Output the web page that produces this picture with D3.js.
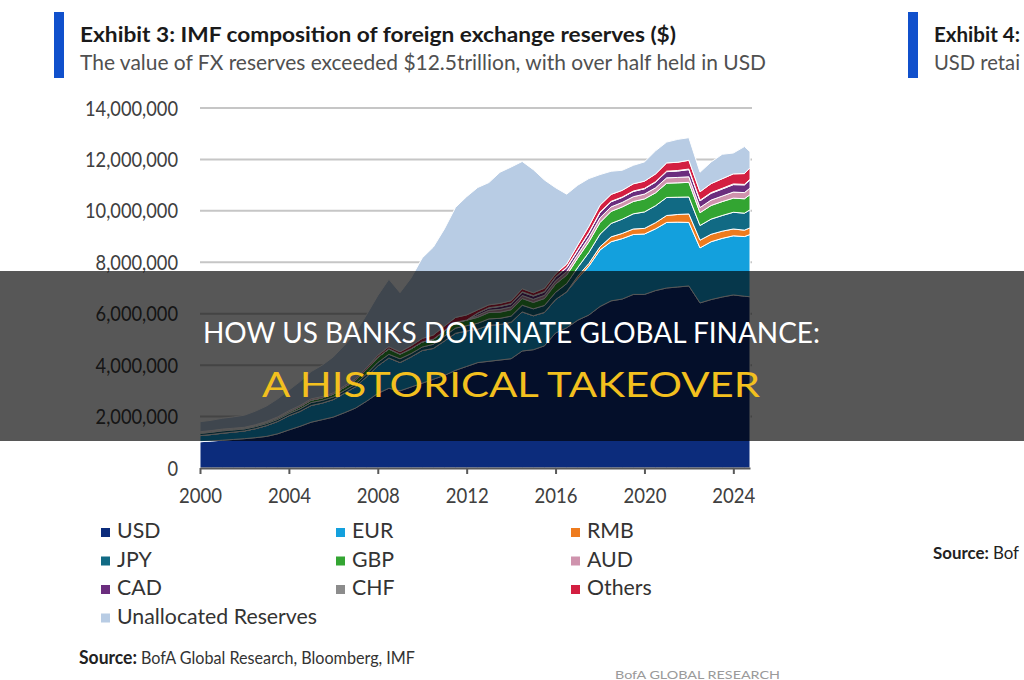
<!DOCTYPE html>
<html>
<head>
<meta charset="utf-8">
<script src="https://cdn.jsdelivr.net/npm/d3@7"></script>
<style>
body { margin: 0; background: #fff; }
text { font-family: Lato, "Open Sans", sans-serif; }
</style>
</head>
<body>
<div id="chart"></div>
<script>
// values in USD bn (half-year steps)
var years = [2000, 2000.5, 2001, 2001.5, 2002, 2002.5, 2003, 2003.5, 2004, 2004.5,
    2005, 2005.5, 2006, 2006.5, 2007, 2007.5, 2008, 2008.5, 2009, 2009.5,
    2010, 2010.5, 2011, 2011.5, 2012, 2012.5, 2013, 2013.5, 2014, 2014.5,
    2015, 2015.5, 2016, 2016.5, 2017, 2017.5, 2018, 2018.5, 2019, 2019.5,
    2020, 2020.5, 2021, 2021.5, 2022, 2022.5, 2023, 2023.5, 2024, 2024.5, 2024.75];

var usd = [1020, 1050, 1080, 1110, 1140, 1180, 1230, 1330, 1480, 1620,
    1780, 1880, 1980, 2150, 2330, 2600, 2900, 3100, 3000, 3150,
    3300, 3450, 3600, 3800, 3950, 4100, 4150, 4200, 4250, 4550,
    4600, 4750, 5250, 5450, 5750, 5950, 6280, 6500, 6570, 6750,
    6750, 6900, 7000, 7040, 7080, 6420, 6550, 6650, 6730, 6680, 6660];
var eur = [240, 250, 272, 285, 300, 350, 420, 480, 550, 580,
    650, 645, 680, 760, 830, 950, 1070, 1180, 1100, 1170,
    1270, 1200, 1340, 1440, 1380, 1300, 1400, 1380, 1420, 1520,
    1320, 1300, 1300, 1400, 1620, 1900, 2200, 2300, 2350, 2330,
    2350, 2400, 2550, 2520, 2470, 2140, 2250, 2280, 2300, 2320, 2420];
var rmb = [0, 0, 0, 0, 0, 0, 0, 0, 0, 0,
    0, 0, 0, 0, 0, 0, 0, 0, 0, 0,
    0, 0, 0, 0, 0, 0, 0, 0, 0, 0,
    0, 0, 0, 0, 90, 105, 123, 190, 203, 215,
    218, 240, 270, 300, 330, 300, 290, 280, 265, 250, 260];
var jpy = [85, 88, 92, 85, 79, 80, 79, 83, 87, 100,
    113, 105, 102, 103, 103, 115, 131, 140, 147, 130,
    133, 160, 190, 200, 204, 230, 249, 240, 236, 260,
    270, 270, 280, 320, 340, 430, 490, 520, 555, 590,
    640, 660, 700, 670, 660, 570, 590, 610, 650, 660, 700];
var gbp = [38, 40, 43, 42, 42, 46, 52, 57, 64, 80,
    93, 98, 107, 125, 147, 170, 200, 210, 176, 185,
    196, 195, 203, 220, 215, 230, 246, 240, 247, 260,
    250, 270, 320, 330, 365, 410, 455, 470, 475, 480,
    505, 500, 555, 560, 570, 500, 530, 540, 550, 560, 590];
var aud = [0, 0, 0, 0, 0, 0, 0, 0, 0, 0,
    0, 0, 0, 0, 0, 0, 0, 0, 0, 0,
    0, 0, 0, 0, 0, 80, 89, 110, 112, 120,
    120, 125, 130, 140, 143, 165, 180, 175, 175, 185,
    190, 195, 210, 210, 215, 200, 210, 215, 235, 240, 255];
var cad = [0, 0, 0, 0, 0, 0, 0, 0, 0, 0,
    0, 0, 0, 0, 0, 0, 0, 0, 0, 0,
    0, 0, 0, 0, 0, 85, 87, 110, 113, 125,
    125, 125, 135, 150, 162, 180, 205, 200, 195, 205,
    205, 220, 240, 250, 280, 260, 265, 275, 290, 300, 320];
var chf = [4, 4, 4, 4, 4, 5, 7, 7, 5, 5,
    5, 4, 4, 5, 6, 6, 7, 8, 6, 6,
    5, 5, 6, 7, 4, 5, 13, 12, 17, 16,
    18, 20, 20, 15, 14, 16, 18, 15, 15, 16,
    16, 19, 20, 20, 21, 23, 25, 25, 28, 20, 25];
var others = [23, 22, 22, 20, 19, 22, 25, 33, 42, 45,
    48, 47, 48, 52, 55, 65, 75, 80, 90, 110,
    135, 160, 180, 190, 200, 120, 110, 110, 110, 120,
    110, 130, 115, 125, 190, 240, 270, 270, 260, 280,
    280, 300, 320, 320, 340, 330, 350, 375, 390, 420, 450];
var unallocated = [390, 400, 420, 440, 470, 530, 600, 700, 800, 930,
    1060, 1220, 1400, 1580, 1780, 2060, 2320, 2620, 2300, 2640,
    3130, 3420, 3780, 4280, 4600, 4760, 4756, 5100, 5200, 4950,
    4790, 4210, 3350, 2720, 2326, 1860, 1190, 900, 780, 720,
    750, 900, 810, 890, 880, 760, 840, 950, 812, 1050, 620];

var keys = ["USD", "EUR", "RMB", "JPY", "GBP", "AUD", "CAD", "CHF", "Others", "Unallocated Reserves"];
var series = [usd, eur, rmb, jpy, gbp, aud, cad, chf, others, unallocated];
var yTicks = [0, 2000, 4000, 6000, 8000, 10000, 12000, 14000];
var xTicks = [2000, 2004, 2008, 2012, 2016, 2020, 2024];

var colors = {
    "USD": "#0c2c7c", "EUR": "#13a0dd", "RMB": "#ee7b1e", "JPY": "#116a84",
    "GBP": "#33a532", "AUD": "#cf93ad", "CAD": "#6b2d7e", "CHF": "#8c8c8c",
    "Others": "#d31f41", "Unallocated Reserves": "#b8cce4"
};

var width = 1024, height = 680;
var svg = d3.select("#chart").append("svg")
    .attr("width", width)
    .attr("height", height);

// squeeze text so the widest one in the selection gets the target width
function fitWidth(sel, target) {
    var maxW = 0;
    sel.each(function() { maxW = Math.max(maxW, this.getComputedTextLength()); });
    var k = target / maxW;
    sel.each(function() {
        d3.select(this).attr("textLength", this.getComputedTextLength() * k)
            .attr("lengthAdjust", "spacingAndGlyphs");
    });
}

// header
svg.append("rect").attr("x", 54).attr("y", 12).attr("width", 10).attr("height", 66).attr("fill", "#1050cc");
svg.append("text").attr("x", 80).attr("y", 42)
    .attr("font-size", 21).attr("font-weight", 700).attr("fill", "#1a1a1a")
    .attr("textLength", 596).attr("lengthAdjust", "spacingAndGlyphs")
    .text("Exhibit 3: IMF composition of foreign exchange reserves ($)");
svg.append("text").attr("x", 80).attr("y", 70)
    .attr("font-size", 21).attr("fill", "#505050")
    .attr("textLength", 686).attr("lengthAdjust", "spacingAndGlyphs")
    .text("The value of FX reserves exceeded $12.5trillion, with over half held in USD");

// neighbouring exhibit at the right edge
svg.append("rect").attr("x", 908).attr("y", 12).attr("width", 10).attr("height", 66).attr("fill", "#1050cc");
svg.append("text").attr("x", 934).attr("y", 42)
    .attr("font-size", 21).attr("font-weight", 700).attr("fill", "#1a1a1a")
    .attr("textLength", 86).attr("lengthAdjust", "spacingAndGlyphs")
    .text("Exhibit 4:");
svg.append("text").attr("x", 934).attr("y", 70)
    .attr("font-size", 21).attr("fill", "#505050")
    .attr("textLength", 86).attr("lengthAdjust", "spacingAndGlyphs")
    .text("USD retai");
svg.append("text").attr("x", 933).attr("y", 559)
    .attr("font-size", 17).attr("fill", "#222")
    .attr("textLength", 86).attr("lengthAdjust", "spacingAndGlyphs")
    .call(function(t) {
        t.append("tspan").attr("font-weight", 700).text("Source: ");
        t.append("tspan").text("Bof");
    });

var x = d3.scaleLinear().domain([2000, 2024.75]).range([200, 750]);
var y = d3.scaleLinear().domain([0, 14000]).range([468, 108]);

// gridlines
svg.append("g").selectAll("line")
    .data(yTicks.filter(d => d > 0))
    .enter().append("line")
    .attr("x1", 200).attr("x2", 752)
    .attr("y1", d => y(d)).attr("y2", d => y(d))
    .attr("stroke", "#c6c6c6").attr("stroke-width", 2);

var yLabels = svg.append("g").selectAll("text")
    .data(yTicks)
    .enter().append("text")
    .attr("x", 178).attr("y", d => y(d))
    .attr("dy", "0.36em")
    .attr("text-anchor", "end")
    .attr("font-size", 21).attr("fill", "#404040")
    .text(d => d3.format(",")(d * 1000));
fitWidth(yLabels, 93);

var rows = years.map(function(yr, i) {
    var r = {year: yr};
    keys.forEach(function(k, j) { r[k] = series[j][i]; });
    return r;
});
var stacked = d3.stack().keys(keys)(rows);

var area = d3.area()
    .x(d => x(d.data.year))
    .y0(d => y(d[0]))
    .y1(d => y(d[1]));

svg.append("g").selectAll("path")
    .data(stacked)
    .enter().append("path")
    .attr("d", area)
    .attr("fill", d => colors[d.key])
    .attr("stroke", "#fff")
    .attr("stroke-width", 1)
    .attr("stroke-linejoin", "round");

var xAxis = svg.append("g")
    .attr("transform", "translate(0,468)")
    .call(d3.axisBottom(x).tickValues(xTicks).tickFormat(d3.format("d"))
        .tickSize(6).tickSizeOuter(0).tickPadding(14));
xAxis.select(".domain").attr("stroke", "#595959").attr("stroke-width", 2);
xAxis.selectAll(".tick line").attr("stroke", "#595959").attr("stroke-width", 2);
xAxis.selectAll(".tick text")
    .attr("font-family", "Lato, 'Open Sans', sans-serif")
    .attr("font-size", 21).attr("fill", "#404040");
fitWidth(xAxis.selectAll(".tick text"), 43);

// legend, three columns
var legend = svg.append("g").selectAll("g")
    .data(keys)
    .enter().append("g")
    .attr("transform", (d, i) => "translate(" + (101 + (i % 3) * 235) + "," + (538 + Math.floor(i / 3) * 28.5) + ")");
legend.append("rect")
    .attr("x", 0).attr("y", -10).attr("width", 9).attr("height", 9)
    .attr("fill", d => colors[d]);
var legendText = legend.append("text")
    .attr("x", 16).attr("y", 0)
    .attr("font-size", 21).attr("fill", "#333")
    .text(d => d);
fitWidth(legendText, 200);

// source
svg.append("text").attr("x", 79).attr("y", 664)
    .attr("font-size", 18).attr("font-weight", 700).attr("fill", "#222")
    .attr("textLength", 58).attr("lengthAdjust", "spacingAndGlyphs")
    .text("Source:");
svg.append("text").attr("x", 141).attr("y", 664)
    .attr("font-size", 18).attr("fill", "#333")
    .attr("textLength", 274).attr("lengthAdjust", "spacingAndGlyphs")
    .text("BofA Global Research, Bloomberg, IMF");
svg.append("text").attr("x", 615).attr("y", 679)
    .attr("font-size", 11).attr("fill", "#9a9a9a")
    .attr("textLength", 165).attr("lengthAdjust", "spacingAndGlyphs")
    .text("BofA GLOBAL RESEARCH");

// dark banner across the picture
svg.append("rect")
    .attr("x", 0).attr("y", 271).attr("width", width).attr("height", 170)
    .attr("fill", "#000").attr("fill-opacity", 0.66);
svg.append("text").attr("x", 203).attr("y", 343)
    .attr("font-family", "Roboto, 'Liberation Sans', sans-serif")
    .attr("font-size", 28).attr("fill", "#fff")
    .attr("textLength", 617).attr("lengthAdjust", "spacingAndGlyphs")
    .text("HOW US BANKS DOMINATE GLOBAL FINANCE:");
svg.append("text").attr("x", 262).attr("y", 397)
    .attr("font-family", "Roboto, 'Liberation Sans', sans-serif")
    .attr("font-size", 35).attr("fill", "#f3c01e")
    .attr("textLength", 498).attr("lengthAdjust", "spacingAndGlyphs")
    .text("A HISTORICAL TAKEOVER");
</script>
</body>
</html>
